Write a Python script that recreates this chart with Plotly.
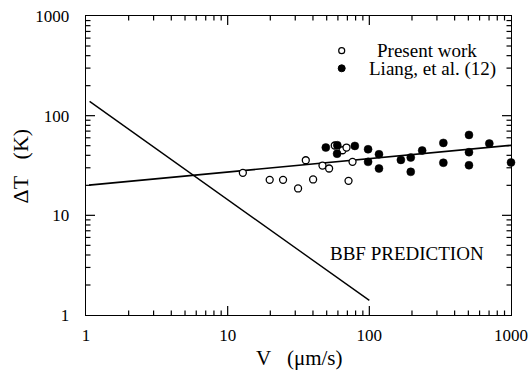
import plotly.graph_objects as go

# Present work (open circles)
present_v = [12.8, 19.8, 24.6, 31.4, 35.6, 40.1, 46.7, 52.0, 57.0, 64.7, 69.0, 71.3, 76.1]
present_dt = [26.7, 22.7, 22.7, 18.6, 35.7, 22.9, 31.6, 29.5, 50.2, 45.0, 47.9, 22.2, 34.4]

# Liang, et al. (12) (filled circles)
liang_v = [49.3, 59.4, 59.2, 79, 98, 98, 117, 117, 167, 196, 196, 236, 333, 333, 505, 505, 505, 703, 1000]
liang_dt = [47.9, 50.5, 41.5, 49.7, 46.0, 34.4, 41.0, 29.5, 36.0, 38.0, 27.3, 44.7, 53.3, 33.7, 64.1, 43.0, 31.8, 52.5, 33.9]

# Fitted line and BBF prediction
fit_v = [1.05, 1000]
fit_dt = [20.1, 50.5]
bbf_v = [1.06, 100]
bbf_dt = [139, 1.4]

# Tick values (both axes: 1 .. 1000, log)
major_ticks = [1, 10, 100, 1000]
major_labels = ["1", "10", "100", "1000"]
minor_ticks = [m * d for d in (1, 10, 100) for m in range(2, 10)]

FONT = "Liberation Serif, Times New Roman, Times, serif"

fig = go.Figure()
fig.add_trace(go.Scatter(x=fit_v, y=fit_dt, mode="lines",
                         line=dict(color="black", width=1.6), showlegend=False))
fig.add_trace(go.Scatter(x=bbf_v, y=bbf_dt, mode="lines",
                         line=dict(color="black", width=1.4), showlegend=False))
fig.add_trace(go.Scatter(x=present_v, y=present_dt, mode="markers",
                         marker=dict(symbol="circle", size=7, color="white",
                                     line=dict(color="black", width=1.3)),
                         showlegend=False, cliponaxis=False))
fig.add_trace(go.Scatter(x=liang_v, y=liang_dt, mode="markers",
                         marker=dict(symbol="circle", size=8, color="black",
                                     line=dict(color="black", width=0.5)),
                         showlegend=False, cliponaxis=False))

axis_common = dict(
    type="log", range=[0, 3], showline=True, linecolor="black", linewidth=1.3,
    mirror=True, ticks="", tickmode="array", tickvals=major_ticks, ticktext=major_labels,
    showgrid=False, zeroline=False,
    tickfont=dict(family=FONT, size=17, color="black"),
)
fig.update_xaxes(ticklabelstandoff=4, **axis_common)
fig.update_yaxes(ticklabelstandoff=12, **axis_common)

L, R, T, B = 86, 19, 16, 57
W, H = 530, 372
pw, ph = W - L - R, H - T - B

def px(xp):
    return (xp - L) / pw

def py(yp):
    return (H - B - yp) / ph

# Tick marks drawn inward on all four sides, positioned through the axis scales
shapes = []
tick_line = dict(color="black", width=1.2)
for vals, ln in ((major_ticks[1:-1], 9), (minor_ticks, 4.5)):
    for v in vals:
        # bottom & top (x axis)
        shapes.append(dict(type="line", xref="x", yref="paper", ysizemode="pixel",
                           yanchor=0, x0=v, x1=v, y0=0, y1=ln, line=tick_line))
        shapes.append(dict(type="line", xref="x", yref="paper", ysizemode="pixel",
                           yanchor=1, x0=v, x1=v, y0=0, y1=-ln, line=tick_line))
        # left & right (y axis)
        shapes.append(dict(type="line", xref="paper", yref="y", xsizemode="pixel",
                           xanchor=0, y0=v, y1=v, x0=0, x1=ln, line=tick_line))
        shapes.append(dict(type="line", xref="paper", yref="y", xsizemode="pixel",
                           xanchor=1, y0=v, y1=v, x0=0, x1=-ln, line=tick_line))

# Legend symbols
shapes += [
    dict(type="circle", xref="paper", yref="paper", xsizemode="pixel", ysizemode="pixel",
         xanchor=px(341.7), yanchor=py(50.7), x0=-3, x1=3, y0=-3, y1=3,
         line=dict(color="black", width=1.2), fillcolor="white"),
    dict(type="circle", xref="paper", yref="paper", xsizemode="pixel", ysizemode="pixel",
         xanchor=px(341.7), yanchor=py(68.3), x0=-3.5, x1=3.5, y0=-3.5, y1=3.5,
         line=dict(color="black", width=1), fillcolor="black"),
]

annotations = [
    dict(text="Present work", x=px(426.7), y=py(50.0), xref="paper", yref="paper",
         showarrow=False, xanchor="center", yanchor="middle",
         font=dict(family=FONT, size=19, color="black")),
    dict(text="Liang, et al. (12)", x=px(432.2), y=py(68.5), xref="paper", yref="paper",
         showarrow=False, xanchor="center", yanchor="middle",
         font=dict(family=FONT, size=19, color="black")),
    dict(text="BBF PREDICTION", x=px(406.5), y=py(253.5), xref="paper", yref="paper",
         showarrow=False, xanchor="center", yanchor="middle",
         font=dict(family=FONT, size=19, color="black")),
    dict(text="V\u00a0\u00a0 (\u03bcm/s)", x=px(299), y=py(358), xref="paper", yref="paper",
         showarrow=False, xanchor="center", yanchor="middle",
         font=dict(family=FONT, size=21, color="black")),
    dict(text="\u0394T\u00a0\u00a0 (K)", x=px(19.5), y=py(166), xref="paper", yref="paper",
         showarrow=False, xanchor="center", yanchor="middle", textangle=-90,
         font=dict(family=FONT, size=22, color="black")),
]

fig.update_layout(
    width=W, height=H,
    margin=dict(l=L, r=R, t=T, b=B, autoexpand=False),
    paper_bgcolor="white", plot_bgcolor="white",
    showlegend=False,
    annotations=annotations, shapes=shapes,
    font=dict(family=FONT, color="black"),
)

fig.write_html(
    "out.html",
    config={"displayModeBar": False, "staticPlot": True},
    post_script="document.body.style.margin='0px';document.body.style.overflow='hidden';",
)
